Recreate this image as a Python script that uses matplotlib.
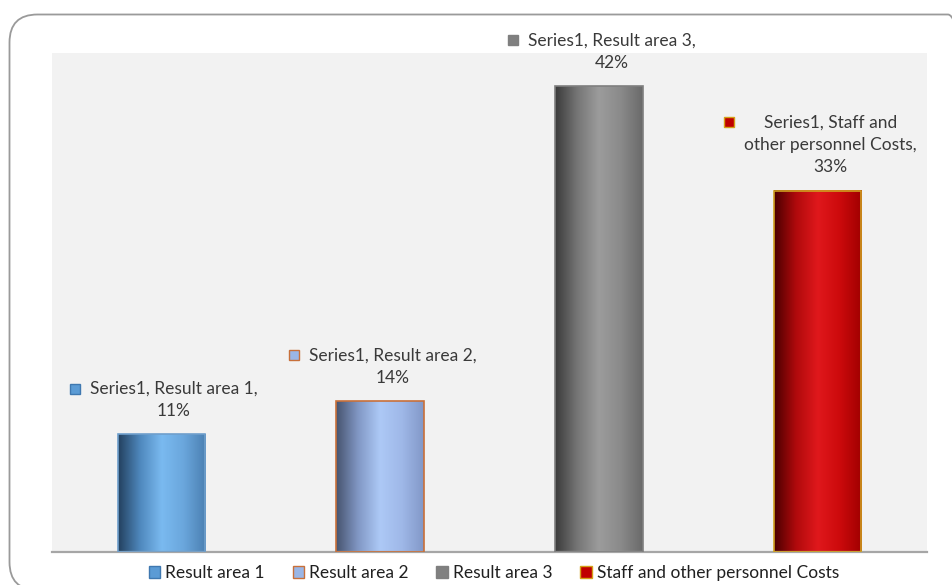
import numpy as np
import matplotlib.pyplot as plt
import matplotlib.patches as mpatches
from matplotlib.path import Path
from matplotlib.colors import LinearSegmentedColormap
from matplotlib.transforms import IdentityTransform

plt.rcParams['font.family'] = ['Lato', 'DejaVu Sans']

# data
categories = ['Result area 1', 'Result area 2', 'Result area 3',
              'Staff and other personnel Costs']
values = [0.106, 0.136, 0.42, 0.326]
series_name = 'Series1'
label_texts = ['Series1, Result area 1,\n11%',
               'Series1, Result area 2,\n14%',
               'Series1, Result area 3,\n42%',
               'Series1, Staff and\nother personnel Costs,\n33%']

# cylinder-ish gradients (left dark -> light -> right darker)
gradients = [
    ['#23405e', '#4f88bd', '#7abaf0', '#6aa6dc', '#4b80b2'],
    ['#46536e', '#8197c4', '#adc9f6', '#9fb8e8', '#8298c8'],
    ['#3a3a3a', '#757575', '#9c9c9c', '#8a8a8a', '#6a6a6a'],
    ['#4a0000', '#b00a0c', '#e0181c', '#cc0a0c', '#a00000'],
]
edge_colors = ['#6f9fcc', '#c8703a', '#7f7f7f', '#d0a020']
key_faces = ['#5b9bd5', '#9ab6e6', '#808080', '#c00000']
key_edges = ['#3f78b0', '#c8703a', '#7f7f7f', '#d4a017']

W, H, DPI = 952, 585, 100
fig = plt.figure(figsize=(W / DPI, H / DPI), dpi=DPI)

# outer rounded frame (pixel coords, partly off the picture)
frame = mpatches.FancyBboxPatch((9.5, -5), 976 - 9.5, (H - 14.5) + 5,
                                boxstyle='round,pad=0,rounding_size=28',
                                transform=IdentityTransform(),
                                facecolor='none', edgecolor='#9a9a9a',
                                linewidth=1.3, zorder=0)
fig.patches.append(frame)

ax = fig.add_axes([52 / W, 1 - 552 / H, (927 - 52) / W, (552 - 53) / H])
ax.set_facecolor('#f2f2f2')
for s in ['top', 'right', 'left']:
    ax.spines[s].set_visible(False)
ax.spines['bottom'].set_color('#a6a6a6')
ax.spines['bottom'].set_linewidth(1.6)
ax.set_xticks([])
ax.set_yticks([])

bar_w = 0.40
bars = ax.bar(range(len(values)), values, width=bar_w, color='none',
              edgecolor=edge_colors, linewidth=1.2, zorder=3)
for i, (b, v) in enumerate(zip(bars, values)):
    cmap = LinearSegmentedColormap.from_list('g%d' % i, gradients[i])
    grad = np.linspace(0, 1, 256).reshape(1, -1)
    x0 = b.get_x()
    ax.imshow(grad, cmap=cmap, aspect='auto', extent=(x0, x0 + bar_w, 0, v),
              zorder=2, interpolation='bicubic')
ax.set_xlim(-0.5, len(categories) - 0.5)
ax.set_ylim(0, 0.45)

# data labels with legend keys
texts = []
for i, v in enumerate(values):
    tx = ax.annotate(label_texts[i], xy=(i, v), xytext=(9, 11),
                     textcoords='offset points', ha='center', va='bottom',
                     fontsize=12.5, color='#3a3a3a', linespacing=1.5,
                     multialignment='center', zorder=5, annotation_clip=False)
    texts.append(tx)

fig.canvas.draw()
r = fig.canvas.get_renderer()
for i, tx in enumerate(texts):
    bb = tx.get_window_extent(r)
    ks = 10
    kx = bb.x0 - 20
    ky = bb.y1 - 13
    fig.patches.append(mpatches.Rectangle((kx, ky), ks, ks,
                                          transform=IdentityTransform(),
                                          facecolor=key_faces[i],
                                          edgecolor=key_edges[i],
                                          linewidth=1.0, zorder=6))

handles = [mpatches.Patch(facecolor=key_faces[i], edgecolor=key_edges[i],
                          linewidth=1.0, label=categories[i])
           for i in range(len(categories))]
fig.legend(handles=handles, loc='center',
           bbox_to_anchor=(0.5 + 18 / W, 1 - 573 / H),
           ncol=4, frameon=False, fontsize=12.5, handlelength=0.65,
           handleheight=0.65, handletextpad=0.3, columnspacing=1.6,
           labelcolor='#202020')

fig.savefig('out.png', dpi=DPI)
